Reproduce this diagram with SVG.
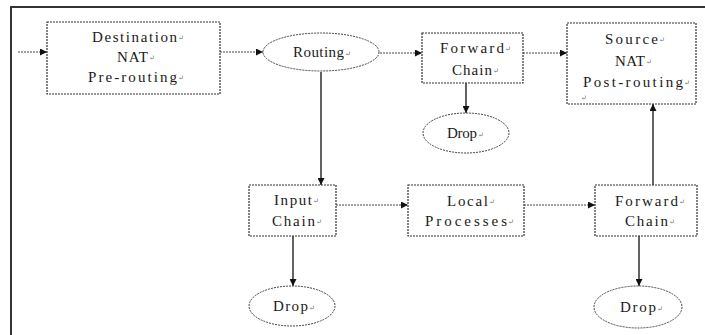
<svg xmlns="http://www.w3.org/2000/svg" width="705" height="335" viewBox="0 0 705 335">
<style>
.frame{stroke:#333;stroke-width:2;fill:none}
.box{fill:#fff;stroke:#333;stroke-width:1.2;stroke-dasharray:2 1}
.ell{fill:#fff;stroke:#444;stroke-width:1;stroke-dasharray:2 1}
.h{stroke:#444;stroke-width:1;stroke-dasharray:2 1;fill:none}
.v{stroke:#222;stroke-width:1.4;fill:none}
text{font-family:"Liberation Serif","DejaVu Serif",serif;font-size:15px;fill:#1a1a1a}
.m{font-size:7px;fill:#666}
</style>
<defs>
<marker id="ah" viewBox="0 0 10 10" refX="10" refY="5" markerWidth="7" markerHeight="7" markerUnits="userSpaceOnUse" orient="auto">
<path d="M0,0 L10,5 L0,10 z" fill="#111"/>
</marker>
</defs>
<rect width="705" height="335" fill="#fff"/>
<path class="frame" d="M11,335 L11,7 L705,7"/>

<g id="connectors">
<line class="h" x1="18" y1="52" x2="47" y2="52" marker-end="url(#ah)"/>
<line class="h" x1="220" y1="52" x2="263" y2="52" marker-end="url(#ah)"/>
<line class="h" x1="380" y1="53" x2="422" y2="53" marker-end="url(#ah)"/>
<line class="h" x1="523" y1="53" x2="567" y2="53" marker-end="url(#ah)"/>
<line class="v" x1="321" y1="72" x2="321" y2="185" marker-end="url(#ah)"/>
<line class="v" x1="466" y1="83" x2="466" y2="113" marker-end="url(#ah)"/>
<line class="v" x1="653" y1="185" x2="653" y2="104" marker-end="url(#ah)"/>
<line class="h" x1="336" y1="205" x2="408" y2="205" marker-end="url(#ah)"/>
<line class="h" x1="524" y1="205" x2="595" y2="205" marker-end="url(#ah)"/>
<line class="v" x1="293" y1="236" x2="293" y2="286" marker-end="url(#ah)"/>
<line class="v" x1="639" y1="236" x2="639" y2="286" marker-end="url(#ah)"/>
</g>

<g id="dnat">
<rect class="box" x="47" y="22" width="173" height="72"/>
<text x="92" y="42" textLength="85" lengthAdjust="spacing">Destination</text><text class="m" x="178" y="40">↵</text>
<text x="117" y="62" textLength="31" lengthAdjust="spacing">NAT</text><text class="m" x="149" y="60">↵</text>
<text x="88" y="82" textLength="89" lengthAdjust="spacing">Pre-routing</text><text class="m" x="178" y="80">↵</text>
</g>

<g id="routing">
<ellipse class="ell" cx="321" cy="52" rx="58" ry="19"/>
<text x="293" y="57" textLength="51" lengthAdjust="spacing">Routing</text><text class="m" x="345" y="56">↵</text>
</g>

<g id="fwd1">
<rect class="box" x="422" y="33" width="101" height="50"/>
<text x="440" y="53" textLength="64" lengthAdjust="spacing">Forward</text><text class="m" x="505" y="51">↵</text>
<text x="452" y="75" textLength="40" lengthAdjust="spacing">Chain</text><text class="m" x="493" y="73">↵</text>
</g>

<g id="drop1">
<ellipse class="ell" cx="466" cy="133" rx="43" ry="20"/>
<text x="447" y="138" textLength="30" lengthAdjust="spacing">Drop</text><text class="m" x="478" y="137">↵</text>
</g>

<g id="snat">
<rect class="box" x="567" y="23" width="129" height="81"/>
<text x="605" y="44" textLength="53" lengthAdjust="spacing">Source</text><text class="m" x="659" y="42">↵</text>
<text x="615" y="66" textLength="30" lengthAdjust="spacing">NAT</text><text class="m" x="646" y="64">↵</text>
<text x="583" y="87" textLength="100" lengthAdjust="spacing">Post-routing</text><text class="m" x="684" y="85">↵</text>
<text class="m" x="581" y="100">↵</text>
</g>

<g id="input">
<rect class="box" x="249" y="185" width="87" height="51"/>
<text x="274" y="205" textLength="38" lengthAdjust="spacing">Input</text><text class="m" x="313" y="203">↵</text>
<text x="272" y="226" textLength="43" lengthAdjust="spacing">Chain</text><text class="m" x="316" y="224">↵</text>
</g>

<g id="local">
<rect class="box" x="408" y="185" width="116" height="51"/>
<text x="447" y="206" textLength="41" lengthAdjust="spacing">Local</text><text class="m" x="489" y="204">↵</text>
<text x="425" y="226" textLength="82" lengthAdjust="spacing">Processes</text><text class="m" x="508" y="224">↵</text>
</g>

<g id="fwd2">
<rect class="box" x="595" y="185" width="102" height="51"/>
<text x="615" y="206" textLength="63" lengthAdjust="spacing">Forward</text><text class="m" x="679" y="204">↵</text>
<text x="625" y="226" textLength="43" lengthAdjust="spacing">Chain</text><text class="m" x="669" y="224">↵</text>
</g>

<g id="drop2">
<ellipse class="ell" cx="292" cy="306" rx="43" ry="20"/>
<text x="273" y="311" textLength="35" lengthAdjust="spacing">Drop</text><text class="m" x="309" y="310">↵</text>
</g>

<g id="drop3">
<ellipse class="ell" cx="638" cy="307" rx="44" ry="21"/>
<text x="620" y="312" textLength="36" lengthAdjust="spacing">Drop</text><text class="m" x="657" y="311">↵</text>
</g>
</svg>
